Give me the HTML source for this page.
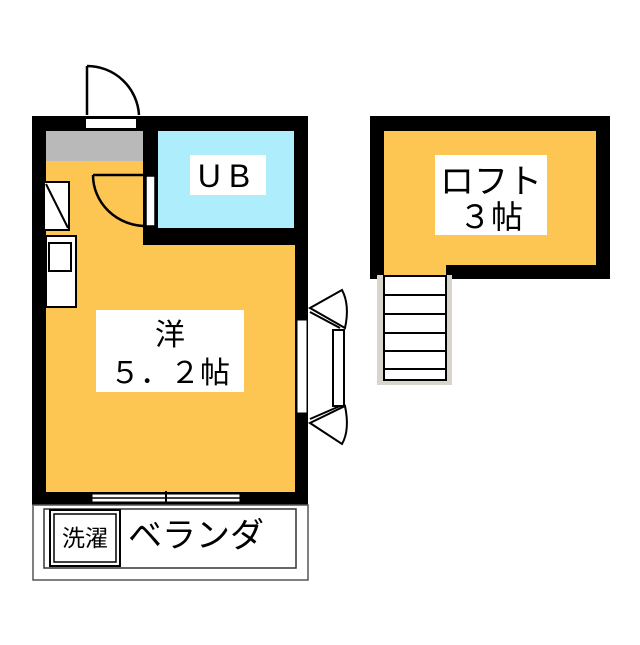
<!DOCTYPE html>
<html><head><meta charset="utf-8"><style>
body{margin:0;background:#fff;width:640px;height:640px;overflow:hidden}
.t{font-family:"Liberation Sans","Noto Sans CJK JP",sans-serif;fill:#000}
</style></head><body>
<svg width="640" height="640" viewBox="0 0 640 640" xmlns="http://www.w3.org/2000/svg">
<!-- main unit -->
<rect x="32" y="116" width="276" height="389" fill="#000"/>
<rect x="46" y="131" width="249" height="361" fill="#FDC652"/>
<rect x="46" y="131" width="97" height="30" fill="#b9b9b9"/>
<rect x="143" y="131" width="152" height="114" fill="#000"/>
<rect x="158" y="131" width="136" height="97" fill="#aeeefc"/>
<rect x="190" y="155" width="76" height="40" fill="#fff"/>
<text x="228" y="187" class="t" font-size="32" text-anchor="middle" letter-spacing="8">UB</text>
<!-- entrance door -->
<rect x="86" y="119" width="50" height="9" fill="#fff"/>
<path d="M87 66 L87 115 M87 66 A52 52 0 0 1 139 115" fill="none" stroke="#000" stroke-width="2.5"/>
<!-- UB door -->
<rect x="146" y="176" width="9" height="50" fill="#fff" stroke="#000" stroke-width="1.5"/>
<path d="M93 175 L146 175 M93 175 A53 51 0 0 0 146 226" fill="none" stroke="#000" stroke-width="2.5"/>
<!-- kitchen -->
<rect x="44" y="182" width="25" height="48" fill="#fff" stroke="#000" stroke-width="2"/>
<line x1="46" y1="184" x2="68" y2="228" stroke="#000" stroke-width="2"/>
<rect x="46" y="236" width="30" height="71" fill="#fff" stroke="#000" stroke-width="2"/>
<rect x="49" y="243" width="22" height="28" fill="#fff" stroke="#000" stroke-width="2"/>
<!-- label -->
<rect x="96" y="310" width="148" height="82" fill="#fff"/>
<text x="170" y="345" class="t" font-size="30" text-anchor="middle">洋</text>
<text x="170" y="383" class="t" font-size="30" text-anchor="middle">５．２帖</text>
<!-- right bay window -->
<rect x="297" y="320" width="10" height="93" fill="#fff" stroke="#000" stroke-width="1"/>
<rect x="333" y="330" width="11" height="76" fill="#fff" stroke="#000" stroke-width="2"/>
<path d="M310 308 L342 290 Q350 305 345 328 Z M310 308 L345 328 M310 312 L340 328" fill="#fff" stroke="#000" stroke-width="2"/>
<path d="M310 423 L342 444 Q350 430 345 406 Z M310 423 L345 406 M310 419 L340 406" fill="#fff" stroke="#000" stroke-width="2"/>
<!-- bottom sliding window -->
<rect x="92" y="494" width="148" height="8" fill="#fff" stroke="#000" stroke-width="1"/>
<line x1="92" y1="498" x2="240" y2="498" stroke="#000" stroke-width="1.5"/>
<line x1="166" y1="491" x2="166" y2="505" stroke="#000" stroke-width="2"/>
<!-- balcony -->
<rect x="33" y="505" width="275" height="75" fill="#fff" stroke="#555" stroke-width="1.5"/>
<rect x="44" y="509" width="252" height="59" fill="#fff" stroke="#333" stroke-width="1.5"/>
<rect x="50" y="510" width="70" height="56" fill="#fff" stroke="#000" stroke-width="2"/>
<rect x="54" y="514" width="62" height="48" fill="#fff" stroke="#000" stroke-width="1.5"/>
<text x="85" y="546" class="t" font-size="23" text-anchor="middle">洗濯</text>
<text x="128" y="547" class="t" font-size="34">ベランダ</text>
<!-- loft -->
<rect x="370" y="116" width="240" height="163" fill="#000"/>
<rect x="384" y="131" width="212" height="134" fill="#FDC652"/>
<rect x="384" y="260" width="62" height="20" fill="#FDC652"/>
<rect x="435" y="155" width="112" height="80" fill="#fff"/>
<text x="491" y="193" class="t" font-size="34" text-anchor="middle">ロフト</text>
<text x="491" y="228" class="t" font-size="32" text-anchor="middle">３帖</text>
<!-- stairs -->
<rect x="377" y="275" width="75" height="110" fill="#d8d6cc"/>
<rect x="384" y="276" width="62" height="104" fill="#fff" stroke="#000" stroke-width="2"/>
<g stroke="#000" stroke-width="2">
<line x1="384" y1="295" x2="446" y2="295"/>
<line x1="384" y1="314" x2="446" y2="314"/>
<line x1="384" y1="333" x2="446" y2="333"/>
<line x1="384" y1="351" x2="446" y2="351"/>
<line x1="384" y1="369" x2="446" y2="369"/>
</g>
</svg>
</body></html>
